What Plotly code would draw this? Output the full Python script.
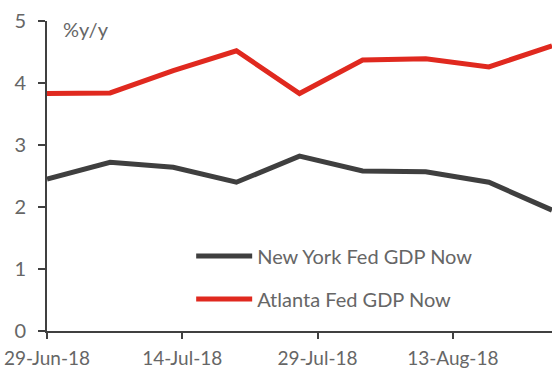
import plotly.graph_objects as go

dates = ["2018-06-29", "2018-07-06", "2018-07-13", "2018-07-20", "2018-07-27",
         "2018-08-03", "2018-08-10", "2018-08-17", "2018-08-24"]
ny_fed = [2.45, 2.72, 2.64, 2.40, 2.82, 2.58, 2.57, 2.40, 1.95]
atlanta_fed = [3.83, 3.84, 4.20, 4.52, 3.83, 4.37, 4.39, 4.26, 4.60]

tick_vals = ["2018-06-29", "2018-07-14", "2018-07-29", "2018-08-13"]
tick_text = ["29-Jun-18", "14-Jul-18", "29-Jul-18", "13-Aug-18"]

font_family = "Lato, 'Open Sans', sans-serif"
text_color = "#666666"
axis_color = "#404040"

fig = go.Figure()
fig.add_trace(go.Scatter(x=dates, y=ny_fed, mode="lines", name="New York Fed GDP Now",
                         line=dict(color="#3f3f3f", width=5), legendgroup="a"))
fig.add_trace(go.Scatter(x=dates, y=atlanta_fed, mode="lines", name="Atlanta Fed GDP Now",
                         line=dict(color="#e0291f", width=5), legendgroup="b"))

fig.update_layout(
    width=552, height=369,
    margin=dict(l=47, r=0, t=21, b=36),
    plot_bgcolor="white", paper_bgcolor="white",
    font=dict(family=font_family, color=text_color, size=16),
    showlegend=True,
    legend=dict(x=0.2855, y=0.305, xanchor="left", yanchor="top",
                font=dict(size=20, color=text_color), itemwidth=56,
                tracegroupgap=14, bgcolor="rgba(0,0,0,0)"),
    xaxis=dict(type="date", range=["2018-06-29", "2018-08-24"],
               tickvals=tick_vals, ticktext=tick_text,
               showgrid=False, zeroline=False,
               showline=True, linecolor=axis_color, linewidth=2,
               ticks="outside", ticklen=6, tickwidth=1.5, tickcolor=axis_color,
               ticklabelstandoff=3,
               tickfont=dict(size=19, color=text_color)),
    yaxis=dict(range=[0, 5], tickvals=[0, 1, 2, 3, 4, 5],
               showgrid=False, zeroline=False,
               showline=True, linecolor=axis_color, linewidth=2,
               ticks="outside", ticklen=7, tickwidth=1.5, tickcolor=axis_color,
               ticklabelstandoff=8,
               tickfont=dict(size=20, color=text_color)),
    annotations=[dict(text="%y/y", xref="paper", yref="paper", x=0.028, y=1.02,
                      xanchor="left", yanchor="top", showarrow=False,
                      font=dict(size=20, color=text_color))],
)

fig.write_html("out.html")
